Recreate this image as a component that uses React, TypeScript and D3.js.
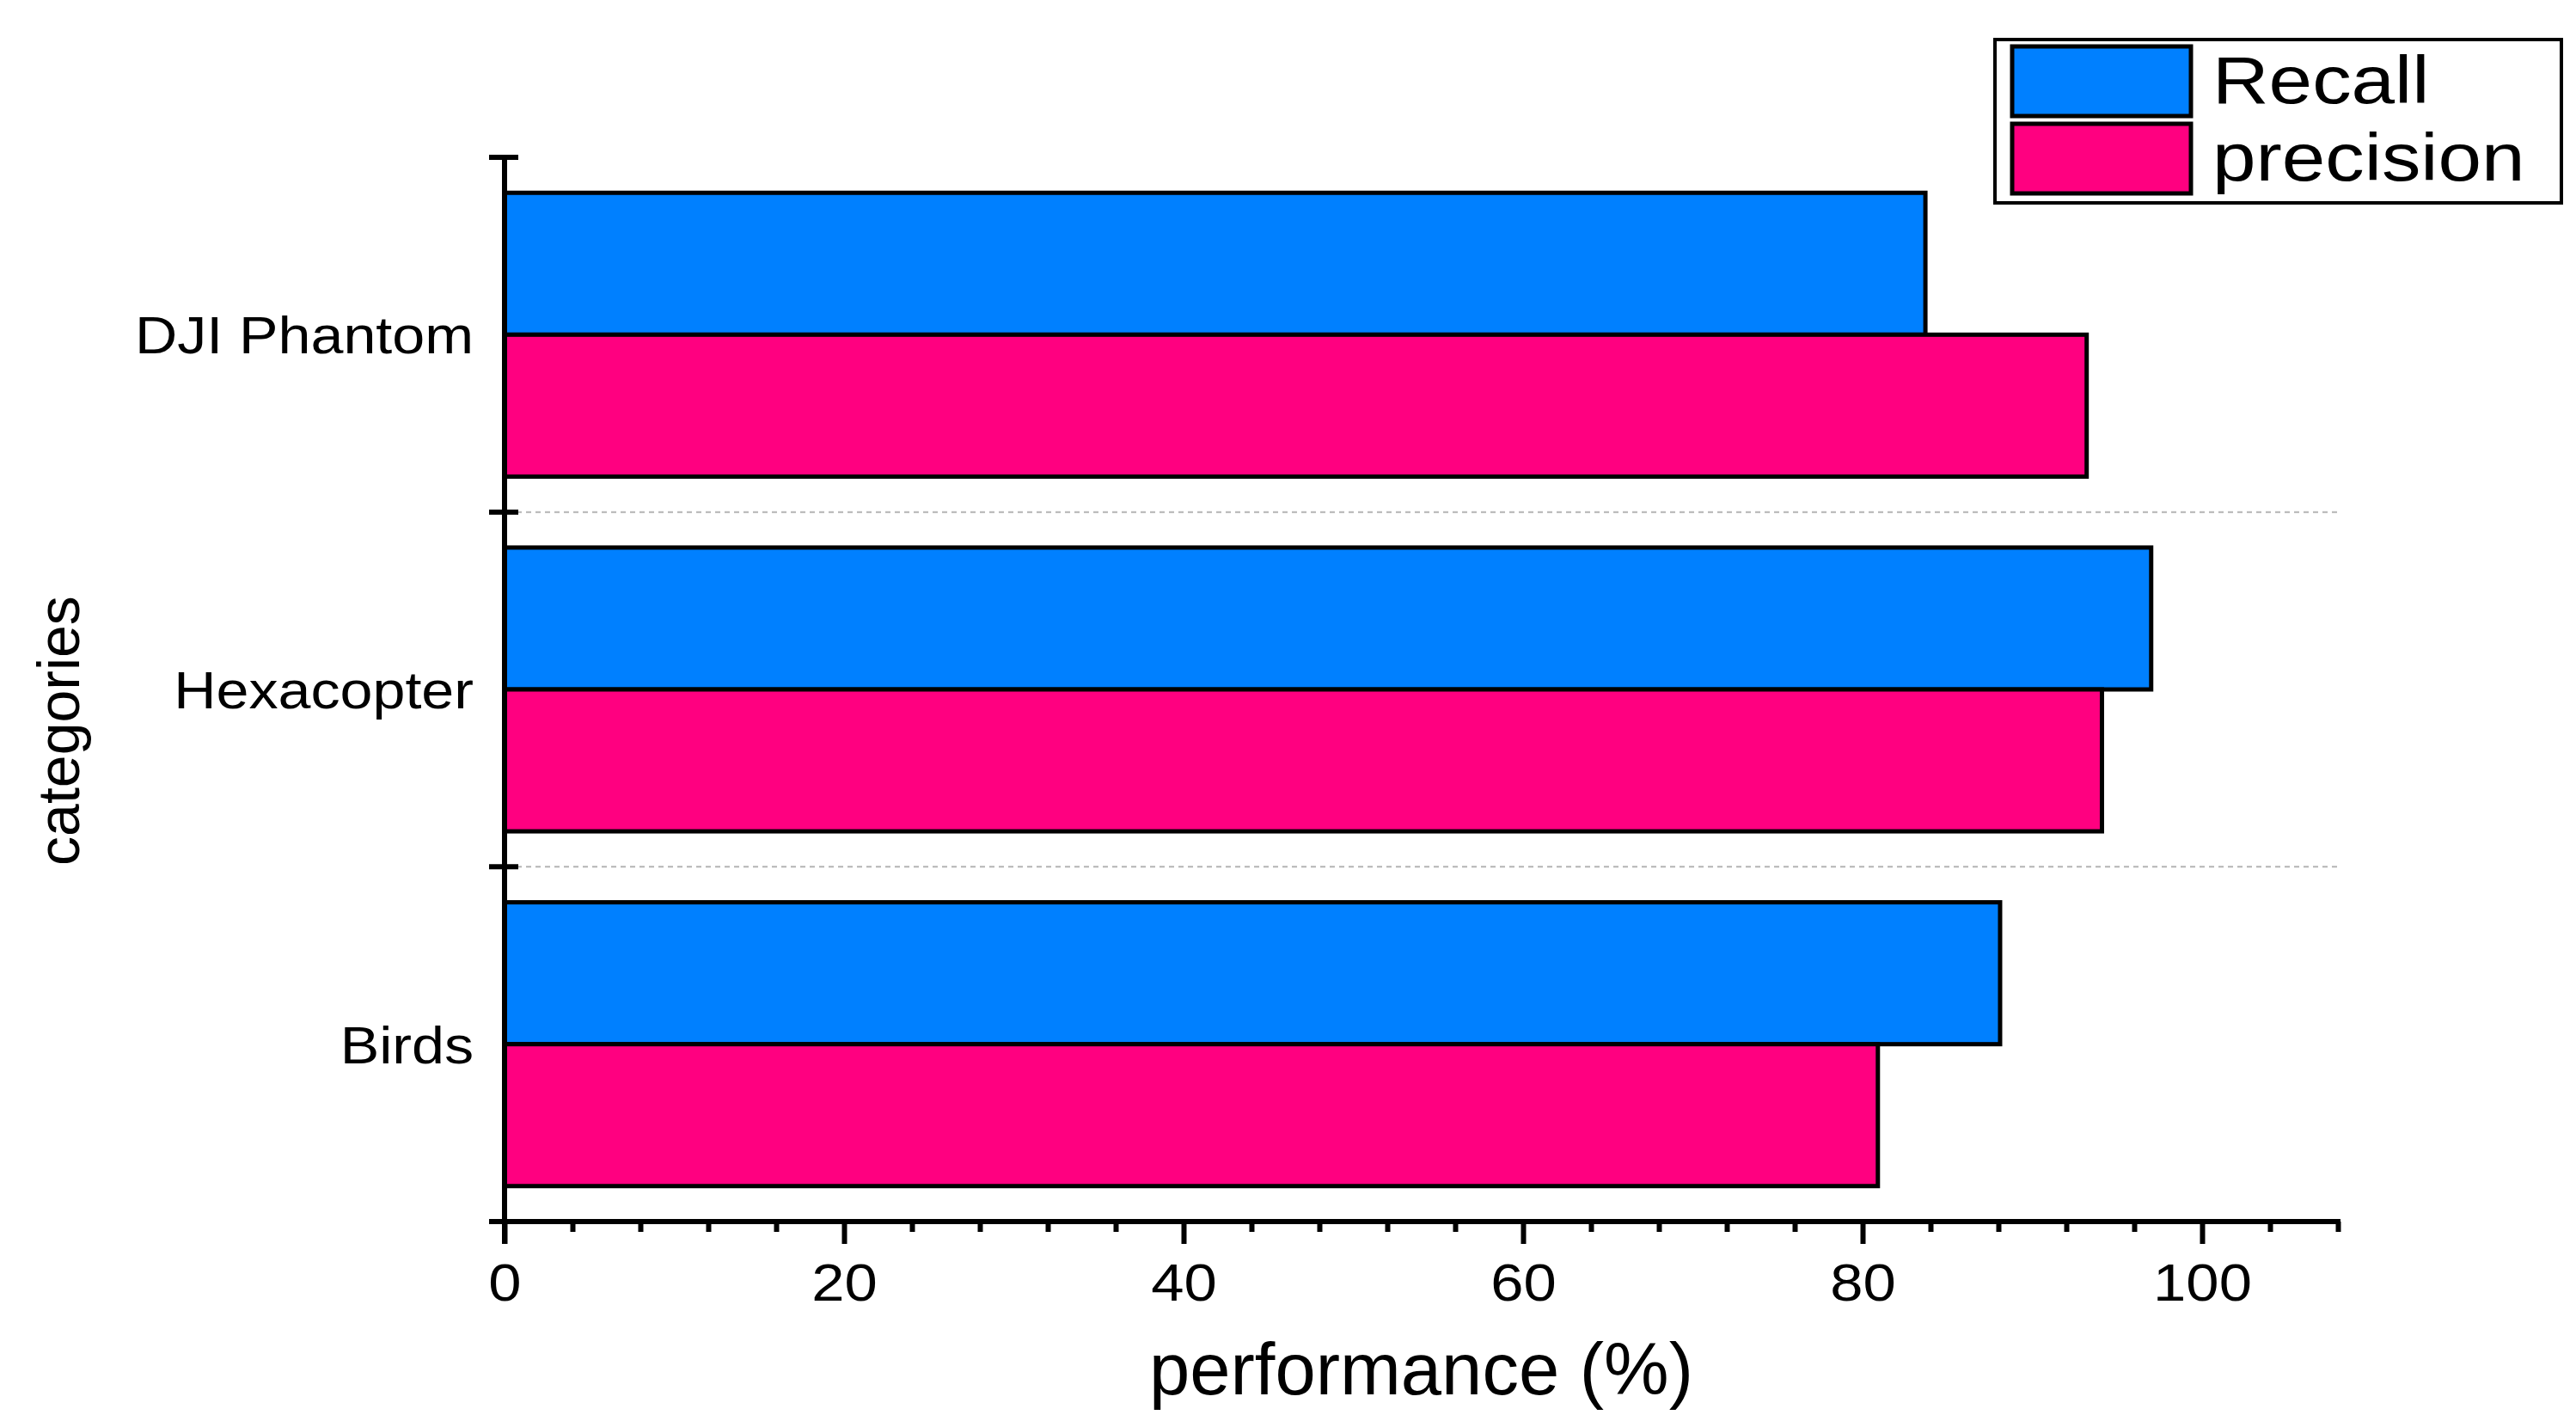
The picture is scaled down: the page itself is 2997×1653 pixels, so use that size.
import { useEffect, useRef } from "react";
import * as d3 from "d3";

const categories = ["DJI Phantom", "Hexacopter", "Birds"];
const seriesNames = ["Recall", "precision"];
const recall = [83.7, 97.0, 88.1];
const precision = [93.2, 94.1, 80.9];
const majorTicks = [0, 20, 40, 60, 80, 100];
const minorTicks = [4, 8, 12, 16, 24, 28, 32, 36, 44, 48, 52, 56, 64, 68, 72, 76, 84, 88, 92, 96, 104, 108];

const colors = ["#0080ff", "#ff0080"];
const font = "'Liberation Sans', Arial, sans-serif";

const Chart = () => {
  const ref = useRef<SVGSVGElement | null>(null);

  useEffect(() => {
    const width = 2997;
    const height = 1653;
    const margin = { top: 183, right: 277, bottom: 232, left: 587 };

    const svg = d3.select(ref.current);
    svg.selectAll("*").remove();

    svg.append("rect").attr("width", width).attr("height", height).attr("fill", "#fff");

    const x = d3
      .scaleLinear()
      .domain([0, 108])
      .range([margin.left, width - margin.right]);

    const y = d3
      .scaleBand()
      .domain(categories)
      .range([margin.top, height - margin.bottom])
      .padding(0);

    const bw = y.bandwidth();
    const inner = d3
      .scaleBand()
      .domain(seriesNames)
      .range([bw * 0.1, bw * 0.9]);

    // dashed separators between categories
    svg
      .append("g")
      .selectAll("line")
      .data(categories.slice(1))
      .join("line")
      .attr("x1", x(0) + 3)
      .attr("x2", x(108))
      .attr("y1", (d) => y(d)!)
      .attr("y2", (d) => y(d)!)
      .attr("stroke", "#b4b4b4")
      .attr("stroke-width", 2)
      .attr("stroke-dasharray", "6,5");

    const rows = categories.map((c, i) => ({ c, vals: [recall[i], precision[i]] }));

    const groups = svg
      .append("g")
      .selectAll("g")
      .data(rows)
      .join("g")
      .attr("transform", (d) => `translate(0,${y(d.c)})`);

    groups
      .selectAll("rect")
      .data((d) => d.vals.map((v, k) => ({ v, k })))
      .join("rect")
      .attr("x", x(0))
      .attr("y", (d) => inner(seriesNames[d.k])!)
      .attr("width", (d) => x(d.v) - x(0))
      .attr("height", inner.bandwidth())
      .attr("fill", (d) => colors[d.k])
      .attr("stroke", "#000")
      .attr("stroke-width", 5);

    // x axis
    const axisY = height - margin.bottom;
    const gx = svg.append("g").attr("transform", `translate(0,${axisY})`);
    gx.call(d3.axisBottom(x).tickValues(majorTicks).tickSize(26).tickSizeOuter(0).tickPadding(22));
    gx.select(".domain").remove();
    gx.selectAll(".tick line").attr("stroke-width", 6);
    gx.selectAll(".tick text")
      .attr("font-family", font)
      .attr("font-size", 62)
      .attr("fill", "#000")
      .attr("transform", "scale(1.11,1)");

    const gm = svg.append("g").attr("transform", `translate(0,${axisY})`);
    gm.call(d3.axisBottom(x).tickValues(minorTicks).tickSize(12).tickSizeOuter(0).tickFormat(() => ""));
    gm.select(".domain").remove();
    gm.selectAll(".tick line").attr("stroke-width", 6);

    svg
      .append("line")
      .attr("x1", 569)
      .attr("x2", x(108) + 3)
      .attr("y1", axisY)
      .attr("y2", axisY)
      .attr("stroke", "#000")
      .attr("stroke-width", 6);

    // y axis
    svg
      .append("line")
      .attr("x1", x(0))
      .attr("x2", x(0))
      .attr("y1", margin.top - 3)
      .attr("y2", axisY + 26)
      .attr("stroke", "#000")
      .attr("stroke-width", 6);

    const yTicks = [...categories.map((c) => y(c)!), height - margin.bottom];
    svg
      .append("g")
      .selectAll("line")
      .data(yTicks)
      .join("line")
      .attr("x1", 569)
      .attr("x2", 603)
      .attr("y1", (d) => d)
      .attr("y2", (d) => d)
      .attr("stroke", "#000")
      .attr("stroke-width", 6);

    svg
      .append("g")
      .selectAll("text")
      .data(categories)
      .join("text")
      .attr("transform", (d) => `translate(551,${y(d)! + bw / 2 + 22}) scale(1.1,1)`)
      .attr("text-anchor", "end")
      .attr("font-family", font)
      .attr("font-size", 62)
      .text((d) => d);

    // axis titles
    svg
      .append("text")
      .attr("x", (x(0) + x(108)) / 2)
      .attr("y", 1622)
      .attr("text-anchor", "middle")
      .attr("font-family", font)
      .attr("font-size", 85)
      .text("performance (%)");

    svg
      .append("text")
      .attr("transform", `translate(92,850) rotate(-90)`)
      .attr("text-anchor", "middle")
      .attr("font-family", font)
      .attr("font-size", 68)
      .text("categories");

    // legend
    const lg = svg.append("g");
    lg.append("rect")
      .attr("x", 2321)
      .attr("y", 46)
      .attr("width", 659)
      .attr("height", 190)
      .attr("fill", "#fff")
      .attr("stroke", "#000")
      .attr("stroke-width", 4);

    const items = lg
      .selectAll("g")
      .data(seriesNames)
      .join("g")
      .attr("transform", (_, i) => `translate(2341,${54 + i * 90})`);

    items
      .append("rect")
      .attr("width", 208)
      .attr("height", 81)
      .attr("fill", (_, i) => colors[i])
      .attr("stroke", "#000")
      .attr("stroke-width", 5);

    items
      .append("text")
      .attr("transform", "translate(233,66) scale(1.18,1)")
      .attr("font-family", font)
      .attr("font-size", 77)
      .text((d) => d);
  }, []);

  return (
    <svg
      ref={ref}
      width={2997}
      height={1653}
      style={{ position: "absolute", left: 0, top: 0, display: "block" }}
    ></svg>
  );
};

export default function App() {
  return <Chart />;
}
